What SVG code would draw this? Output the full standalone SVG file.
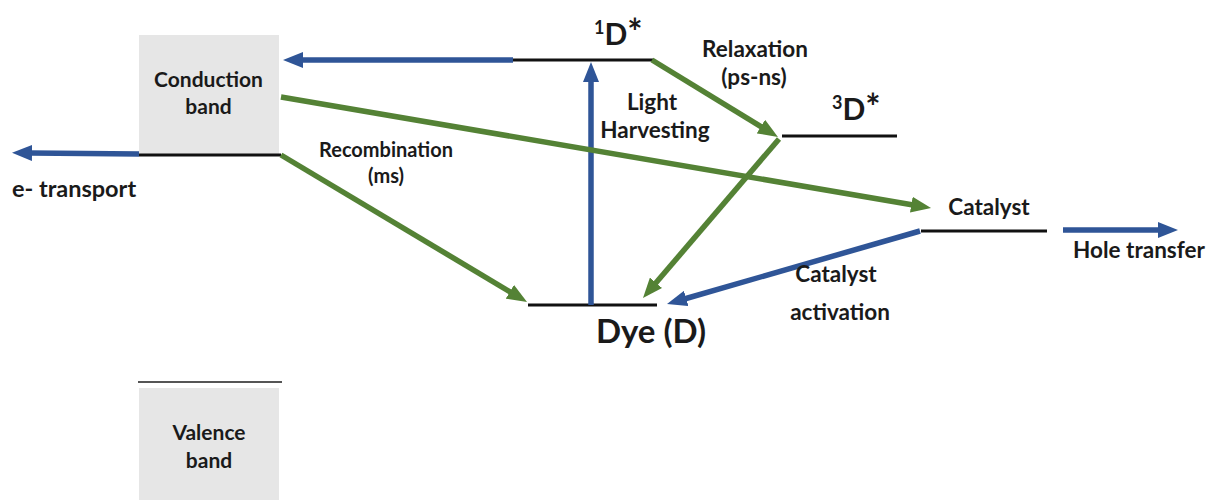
<svg xmlns="http://www.w3.org/2000/svg" width="1210" height="500" viewBox="0 0 1210 500">
  <style>
    text { font-family: Lato, "Liberation Sans", sans-serif; font-weight: 700; fill: #1a1a1a; text-anchor: middle; }
    .lbl { font-size: 22.5px; }
    .band-lbl { font-size: 21px; }
    .state { font-size: 30px; text-anchor: start; }
    .sup { font-size: 18px; }
    .star { font-size: 36px; }
    .lvl { stroke: #111; stroke-width: 3; }
    .band { fill: #e6e6e6; }
    .blue { stroke: #2f5597; stroke-width: 5.5; fill: none; }
    .green { stroke: #548235; stroke-width: 5.5; fill: none; }
  </style>
  <defs>
    <marker id="ah-blue" viewBox="0 0 20 16" refX="2" refY="8" markerWidth="20" markerHeight="16" markerUnits="userSpaceOnUse" orient="auto">
      <path d="M0,0 L20,8 L0,16 z" fill="#2f5597"/>
    </marker>
    <marker id="ah-green" viewBox="0 0 20 16" refX="2" refY="8" markerWidth="20" markerHeight="16" markerUnits="userSpaceOnUse" orient="auto">
      <path d="M0,0 L20,8 L0,16 z" fill="#548235"/>
    </marker>
  </defs>
  <rect width="1210" height="500" fill="#ffffff"/>

  <g id="conduction-band">
    <rect class="band" x="139" y="35" width="140" height="120"/>
    <line class="lvl" x1="139" y1="155" x2="281" y2="155"/>
    <text class="band-lbl" x="208.5" y="87">Conduction</text>
    <text class="band-lbl" x="208.5" y="114">band</text>
  </g>

  <g id="valence-band">
    <line x1="138" y1="382" x2="282" y2="382" stroke="#555" stroke-width="2"/>
    <rect class="band" x="139" y="388" width="140" height="112"/>
    <text class="band-lbl" x="209" y="440">Valence</text>
    <text class="band-lbl" x="209" y="468">band</text>
  </g>

  <g id="singlet-excited">
    <line class="lvl" x1="513" y1="60" x2="653" y2="60"/>
    <text class="state" x="594" y="45"><tspan class="sup" dy="-11">1</tspan><tspan dy="11">D</tspan><tspan class="star">*</tspan></text>
  </g>

  <g id="triplet-excited">
    <line class="lvl" x1="782" y1="136" x2="897" y2="136"/>
    <text class="state" x="832" y="120"><tspan class="sup" dy="-11">3</tspan><tspan dy="11">D</tspan><tspan class="star">*</tspan></text>
  </g>

  <g id="dye-ground">
    <line class="lvl" x1="528" y1="305" x2="657" y2="305"/>
    <text x="651" y="343" font-size="33">Dye (D)</text>
  </g>

  <g id="catalyst">
    <line class="lvl" x1="921" y1="231" x2="1047" y2="231"/>
    <text class="lbl" x="989" y="215">Catalyst</text>
  </g>

  <g id="connectors">
    <line class="blue" x1="513" y1="60" x2="301" y2="60" marker-end="url(#ah-blue)"/>
    <line class="blue" x1="139" y1="154" x2="30" y2="153" marker-end="url(#ah-blue)"/>
    <line class="blue" x1="591" y1="305" x2="591" y2="80" marker-end="url(#ah-blue)"/>
    <line class="green" x1="652" y1="60" x2="762.6" y2="127.6" marker-end="url(#ah-green)"/>
    <line class="green" x1="779" y1="139" x2="654.7" y2="284.3" marker-end="url(#ah-green)"/>
    <line class="green" x1="281" y1="155" x2="511.6" y2="292.8" marker-end="url(#ah-green)"/>
    <line class="green" x1="281" y1="97" x2="913.3" y2="205" marker-end="url(#ah-green)"/>
    <line class="blue" x1="920" y1="231" x2="684.3" y2="299" marker-end="url(#ah-blue)"/>
    <line class="blue" x1="1063" y1="230" x2="1160" y2="230" marker-end="url(#ah-blue)"/>
  </g>

  <g id="labels">
    <text x="74" y="197" font-size="23.5">e- transport</text>
    <text x="386" y="157" font-size="20">Recombination</text>
    <text x="386" y="183" font-size="20">(ms)</text>
    <text class="lbl" x="652" y="110">Light</text>
    <text class="lbl" x="655" y="138">Harvesting</text>
    <text class="lbl" x="755" y="57">Relaxation</text>
    <text class="lbl" x="754" y="85">(ps-ns)</text>
    <text class="lbl" x="836" y="282">Catalyst</text>
    <text class="lbl" x="840" y="320">activation</text>
    <text class="lbl" x="1139" y="258">Hole transfer</text>
  </g>
</svg>
